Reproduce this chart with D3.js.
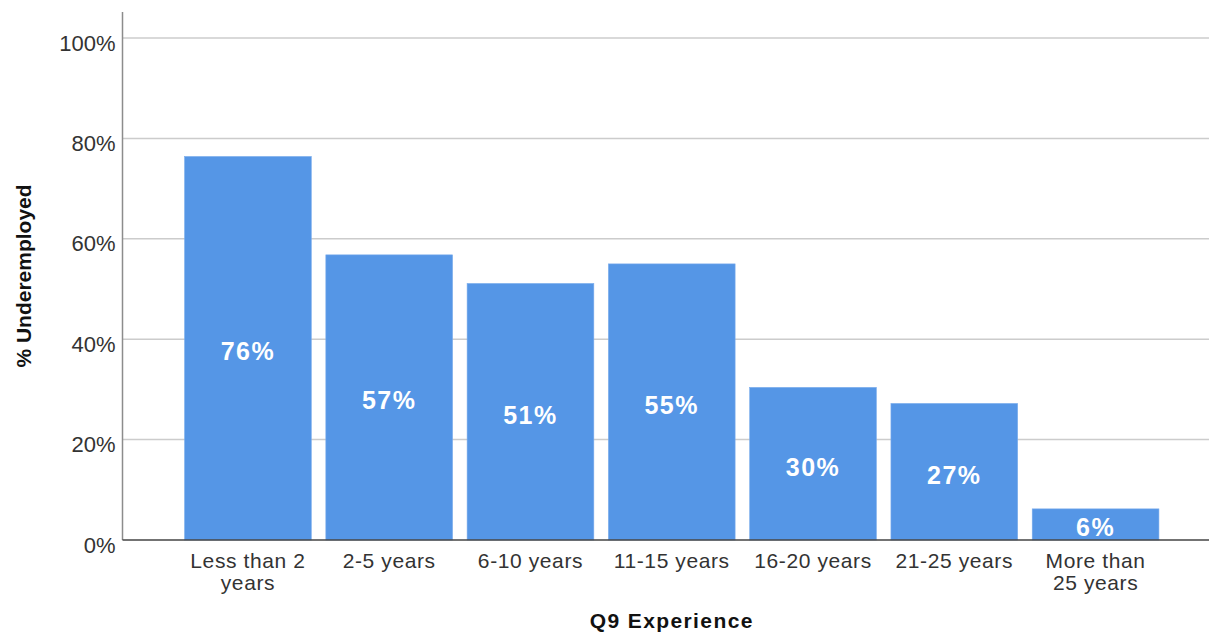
<!DOCTYPE html>
<html>
<head>
<meta charset="utf-8">
<script src="https://cdn.jsdelivr.net/npm/d3@7"></script>
<style>
  html, body { margin: 0; padding: 0; background: #ffffff; }
  svg { display: block; font-family: "Liberation Sans", Arial, sans-serif; }
</style>
</head>
<body>
<svg id="chart" width="1209" height="633"></svg>
<script>
// Share underemployed by years of experience
const categories = [
  ["Less than 2", "years"],
  ["2-5 years"],
  ["6-10 years"],
  ["11-15 years"],
  ["16-20 years"],
  ["21-25 years"],
  ["More than", "25 years"]
];
const underemployed = [76.4, 56.8, 51.1, 55.0, 30.4, 27.2, 6.2];
const yTicks = [0, 20, 40, 60, 80, 100];

const svg = d3.select("#chart");
const W = 1209;
const axisX = 122.5, baseY = 540, axisTop = 12;

const x = d3.scaleBand()
  .domain(d3.range(categories.length))
  .range([177.5, 1166])
  .paddingInner(0.103)
  .paddingOuter(0.05);

const y = d3.scaleLinear().domain([0, 100]).range([baseY, 38]);

// gridlines
svg.append("g")
  .selectAll("line")
  .data(yTicks.filter(d => d > 0))
  .join("line")
  .attr("x1", axisX).attr("x2", W)
  .attr("y1", d => y(d)).attr("y2", d => y(d))
  .attr("stroke", "#cccccc").attr("stroke-width", 1.5);

// y axis
const yAxis = svg.append("g")
  .attr("transform", `translate(${axisX},0)`)
  .call(d3.axisLeft(y).tickValues(yTicks).tickSize(0).tickPadding(7).tickFormat(d => d + "%"));
yAxis.select(".domain").remove();
yAxis.selectAll("text")
  .attr("font-size", 22)
  .attr("fill", "#333333")
  .attr("font-family", "Liberation Sans, Arial, sans-serif")
  .attr("dy", "0.55em");
svg.append("line")
  .attr("x1", axisX).attr("x2", axisX)
  .attr("y1", axisTop).attr("y2", baseY)
  .attr("stroke", "#8c8c8c").attr("stroke-width", 1.5);

// bars
svg.append("g")
  .selectAll("rect")
  .data(underemployed)
  .join("rect")
  .attr("x", (d, i) => x(i))
  .attr("width", x.bandwidth())
  .attr("y", d => y(d))
  .attr("height", d => baseY - y(d))
  .attr("fill", "#5596e6")
  .attr("stroke", "#7aacec")
  .attr("stroke-width", 0.6);

// value labels
svg.append("g")
  .selectAll("text")
  .data(underemployed)
  .join("text")
  .attr("x", (d, i) => x(i) + x.bandwidth() / 2)
  .attr("y", d => (y(d) + baseY) / 2 + 3)
  .attr("text-anchor", "middle")
  .attr("dominant-baseline", "central")
  .attr("fill", "#ffffff")
  .attr("font-weight", "bold")
  .attr("font-size", 25)
  .attr("letter-spacing", 1.5)
  .text(d => Math.round(d) + "%");

// x axis baseline
svg.append("line")
  .attr("x1", axisX).attr("x2", W)
  .attr("y1", baseY).attr("y2", baseY)
  .attr("stroke", "#444444").attr("stroke-width", 1.5);

// x axis labels
const xAxis = svg.append("g")
  .attr("transform", `translate(0,${baseY})`)
  .call(d3.axisBottom(x).tickSize(0).tickFormat(""));
xAxis.select(".domain").remove();
xAxis.selectAll(".tick").each(function(i) {
  const t = d3.select(this).append("text")
    .attr("text-anchor", "middle")
    .attr("fill", "#333333")
    .attr("font-size", 21)
    .attr("letter-spacing", 0.6)
    .attr("y", 28);
  categories[i].forEach((line, k) => {
    t.append("tspan").attr("x", 0).attr("dy", k === 0 ? 0 : 22).text(line);
  });
});

// axis titles
svg.append("text")
  .attr("x", (x.range()[0] + x.range()[1]) / 2)
  .attr("y", 628)
  .attr("text-anchor", "middle")
  .attr("font-weight", "bold")
  .attr("font-size", 21)
  .attr("letter-spacing", 1.4)
  .attr("fill", "#111111")
  .text("Q9 Experience");

svg.append("text")
  .attr("transform", "translate(31,276) rotate(-90)")
  .attr("text-anchor", "middle")
  .attr("font-weight", "bold")
  .attr("font-size", 21)
  .attr("fill", "#111111")
  .text("% Underemployed");
</script>
</body>
</html>
